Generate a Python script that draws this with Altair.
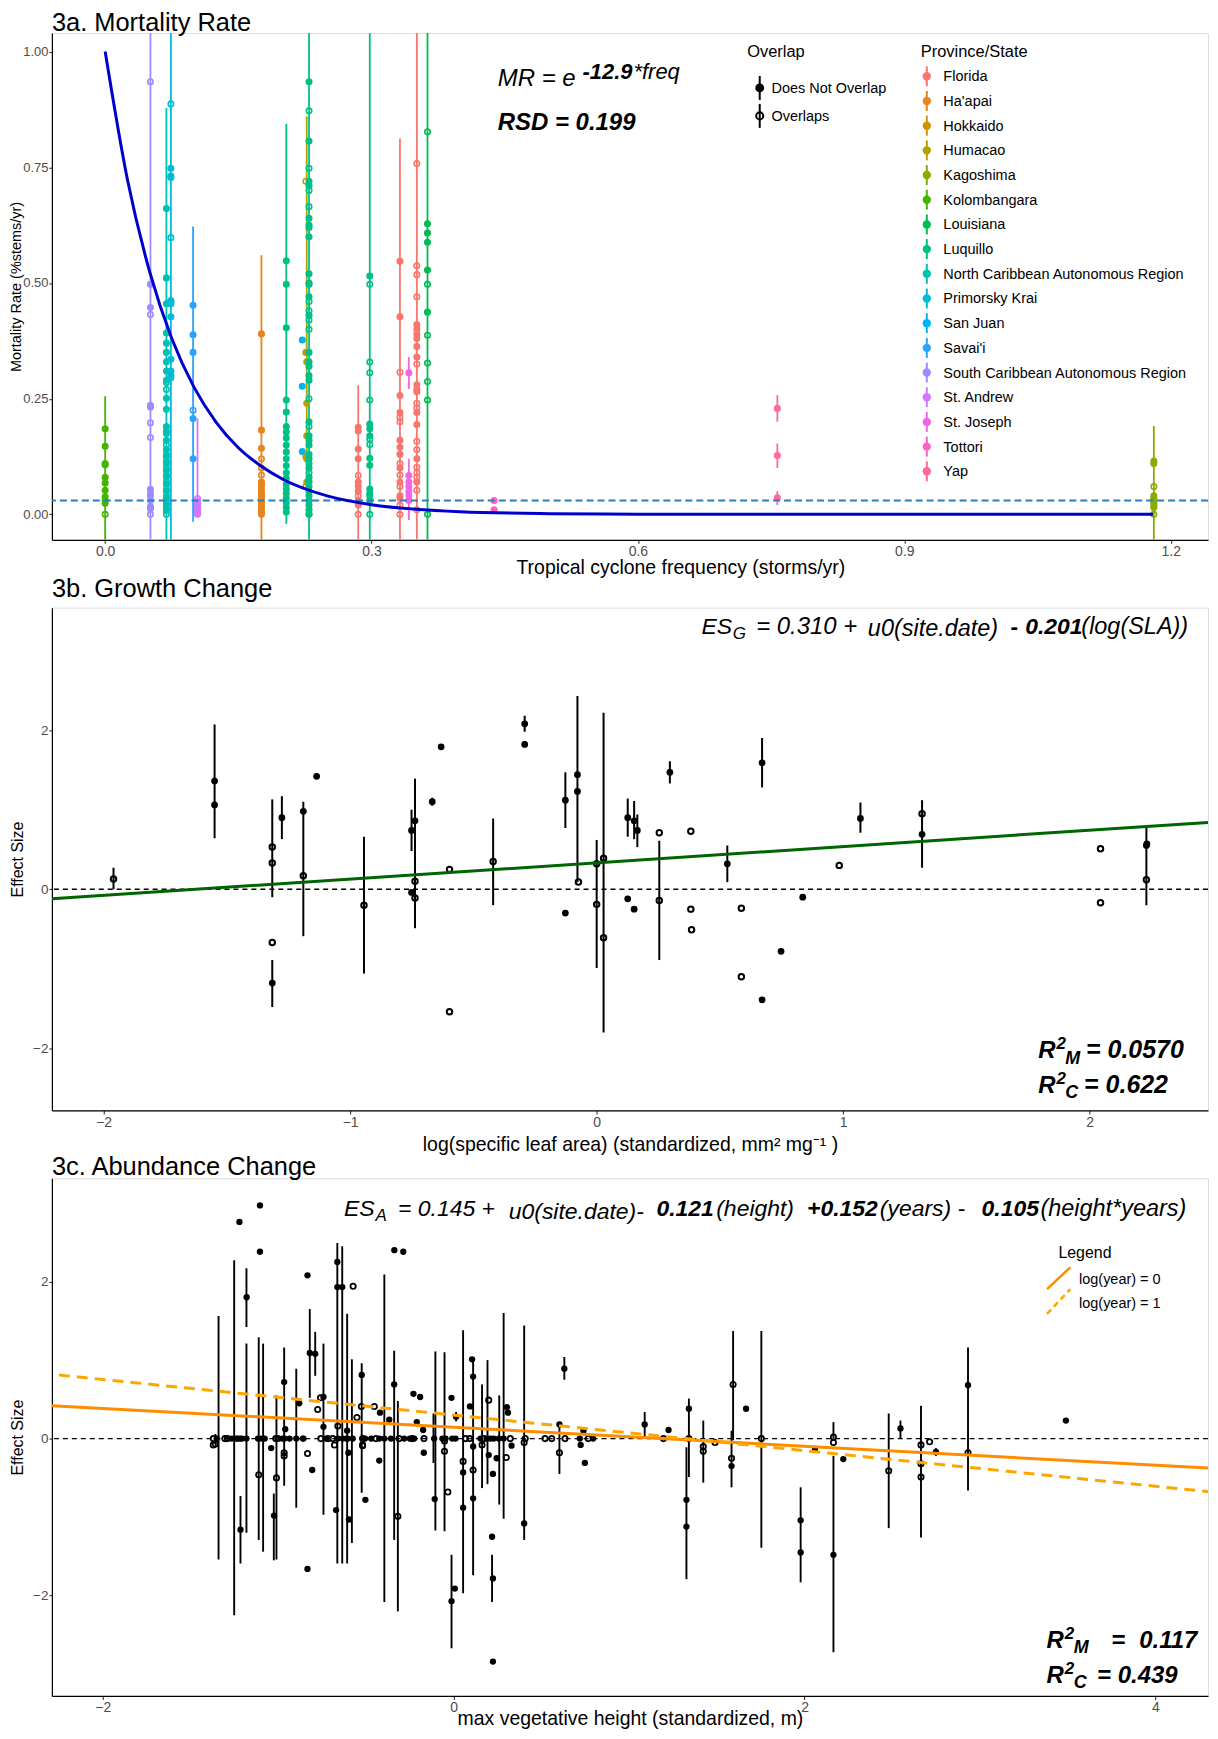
import math
import altair as alt
import pandas as pd

FONT = "Liberation Sans"

# ---------------- Panel 3a data ----------------
PROVINCES = ["Florida", "Ha'apai", "Hokkaido", "Humacao", "Kagoshima", "Kolombangara",
             "Louisiana", "Luquillo", "North Caribbean Autonomous Region", "Primorsky Krai",
             "San Juan", "Savai'i", "South Caribbean Autonomous Region", "St. Andrew",
             "St. Joseph", "Tottori", "Yap"]
OVERLAP = ["Does Not Overlap", "Overlaps"]

# (province, cyclone frequency, filled mortality values, open mortality values, error bars)
SITES_A = [
    ("Kolombangara", 0.000, [0.185, 0.147, 0.110, 0.107, 0.080, 0.068, 0.052, 0.038, 0.024],
     [0.030, 0.0], [(-0.10, 0.255)]),
    ("South Caribbean Autonomous Region", 0.051,
     [0.497, 0.447, 0.236, 0.232, 0.054, 0.044, 0.030, 0.017, 0.012],
     [0.935, 0.432, 0.198, 0.166, 0.040, 0.0], [(-0.10, 1.20)]),
    ("North Caribbean Autonomous Region", 0.069,
     [0.661, 0.511, 0.455, 0.392, 0.370, 0.350, 0.330, 0.310, 0.290, 0.251, 0.227, 0.190,
      0.175, 0.160, 0.140, 0.125, 0.110, 0.095, 0.080, 0.065, 0.050, 0.035, 0.020, 0.008],
     [0.285, 0.270, 0.180, 0.150, 0.130, 0.115, 0.100, 0.085, 0.070, 0.055, 0.040, 0.025,
      0.012, 0.0], [(-0.10, 0.878)]),
    ("Primorsky Krai", 0.074, [0.748, 0.731, 0.728, 0.459, 0.427, 0.335, 0.310, 0.300],
     [0.887, 0.598, 0.462, 0.455, 0.295], [(-0.10, 1.20)]),
    ("Savai'i", 0.099, [0.452, 0.388, 0.350, 0.207, 0.120], [0.225], [(-0.016, 0.622)]),
    ("St. Andrew", 0.104, [0.028, 0.022, 0.016, 0.011, 0.006, 0.002], [0.034, 0.0],
     [(0.0, 0.207)]),
    ("Ha'apai", 0.176, [0.390, 0.182, 0.143, 0.070, 0.060, 0.052, 0.045, 0.040, 0.035, 0.028,
                        0.022, 0.016, 0.010, 0.005, 0.0],
     [0.120, 0.100, 0.085, 0.065], [(-0.10, 0.560)]),
    ("Luquillo", 0.204, [0.548, 0.497, 0.403, 0.247, 0.221, 0.190, 0.178, 0.165, 0.150, 0.135,
                         0.120, 0.105, 0.090, 0.078, 0.065, 0.055, 0.045, 0.035, 0.025, 0.015,
                         0.005], [], [(-0.02, 0.844)]),
    ("San Juan", 0.222, [0.377, 0.277, 0.136], [], []),
    ("Humacao", 0.227, [0.330, 0.240, 0.170, 0.120, 0.070], [], [(0.0, 0.860)]),
    ("Hokkaido", 0.226, [0.350, 0.125], [0.720, 0.060], []),
    ("Luquillo", 0.2296, [0.935, 0.807, 0.720, 0.710, 0.640, 0.625, 0.620, 0.600, 0.520, 0.500,
                          0.470, 0.430, 0.350, 0.330, 0.320, 0.300, 0.290, 0.200, 0.170, 0.160,
                          0.150, 0.130, 0.120, 0.110, 0.100, 0.080, 0.070, 0.060, 0.050, 0.040,
                          0.030, 0.020, 0.010, 0.0],
     [0.872, 0.748, 0.700, 0.665, 0.497, 0.460, 0.440, 0.420, 0.400, 0.250, 0.190, 0.090, 0.0],
     [(-0.10, 1.20)]),
    ("Florida", 0.285, [0.188, 0.180, 0.141, 0.120, 0.070, 0.060, 0.050, 0.030, 0.020],
     [0.084, 0.040, 0.0], [(-0.10, 0.279)]),
    ("Luquillo", 0.298, [0.515, 0.195, 0.185, 0.170, 0.121, 0.106, 0.055, 0.045, 0.030],
     [0.497, 0.329, 0.306, 0.247, 0.163, 0.151, 0.040, 0.0], [(-0.10, 1.20)]),
    ("Florida", 0.332, [0.547, 0.427, 0.257, 0.220, 0.160, 0.145, 0.130, 0.100, 0.070, 0.040,
                        0.035], [0.307, 0.210, 0.200, 0.110, 0.085, 0.060, 0.020, 0.0],
     [(-0.10, 0.812)]),
    ("St. Joseph", 0.342, [0.306, 0.084, 0.070, 0.060, 0.050, 0.040, 0.030], [],
     [(0.271, 0.340), (-0.012, 0.120)]),
    ("Florida", 0.351, [0.410, 0.400, 0.390, 0.380, 0.363, 0.340, 0.280, 0.270, 0.265, 0.220,
                        0.194, 0.120, 0.070],
     [0.758, 0.537, 0.518, 0.470, 0.325, 0.240, 0.230, 0.158, 0.140, 0.102, 0.090, 0.080,
      0.052, 0.010], [(-0.10, 1.20)]),
    ("Louisiana", 0.363, [0.628, 0.608, 0.588, 0.528, 0.437],
     [0.827, 0.497, 0.387, 0.327, 0.287, 0.247, 0.0], [(-0.10, 1.20)]),
    ("Tottori", 0.438, [0.030, 0.010], [], []),
    ("Yap", 0.757, [0.229, 0.127, 0.036], [], [(0.200, 0.258), (0.100, 0.153), (0.020, 0.050)]),
    ("Kagoshima", 1.181, [0.115, 0.110, 0.040, 0.035, 0.030, 0.025, 0.020, 0.015],
     [0.060, 0.0], [(-0.10, 0.191)]),
]

# fitted curve (MR = e^-12.9*freq)
CURVE_X = [0.0, 0.025, 0.05, 0.075, 0.10, 0.125, 0.15, 0.175, 0.20, 0.25, 0.30, 0.35, 0.40,
           0.50, 0.60, 0.80, 1.00, 1.18]
CURVE_Y = [1.0, 0.724, 0.525, 0.380, 0.275, 0.199, 0.144, 0.105, 0.076, 0.040, 0.021, 0.011,
           0.0057, 0.0016, 0.0004, 0.0, 0.0, 0.0]
HLINE_A = [0.03]

# ---------------- Panel 3b data ----------------
B_FILLED = [(-1.55, 1.36), (-1.55, 1.06), (-1.277, 0.90), (-1.19, 0.98), (-1.136, 1.42),
            (-1.316, -1.18), (-0.751, 0.74), (-0.737, 0.86), (-0.751, -0.04), (-0.667, 1.10),
            (-0.631, 1.79), (-0.292, 2.08), (-0.292, 1.82), (-0.127, 1.12), (-0.127, -0.30),
            (-0.078, 1.44), (-0.078, 1.23), (0.126, 0.90), (0.126, -0.12), (0.152, 0.86),
            (0.152, -0.25), (0.165, 0.74), (0.297, 1.47), (0.530, 0.32), (0.671, 1.59),
            (0.671, -1.39), (0.748, -0.78), (0.836, -0.10), (1.070, 0.89), (1.320, 0.69),
            (2.230, 0.55), (2.232, 0.57)]
B_OPEN = [(-1.96, 0.13), (-1.316, 0.53), (-1.316, 0.33), (-1.19, 0.17), (-1.316, -0.67),
          (-0.944, -0.20), (-0.737, 0.10), (-0.737, -0.11), (-0.597, 0.25), (-0.597, -1.54),
          (-0.42, 0.35), (-0.074, 0.09), (0.0, 0.32), (0.0, -0.19), (0.028, 0.39),
          (0.028, -0.61), (0.254, 0.71), (0.254, -0.14), (0.382, 0.73), (0.382, -0.25),
          (0.385, -0.51), (0.587, -0.24), (0.587, -1.10), (0.984, 0.30), (1.320, 0.95),
          (2.044, 0.51), (2.044, -0.17), (2.230, 0.12)]
B_BARS = [(-1.96, 0.0, 0.27), (-1.55, 0.64, 2.07), (-1.316, -0.10, 1.13), (-1.277, 0.63, 1.17),
          (-1.19, -0.59, 1.10), (-1.316, -1.48, -0.89), (-0.944, -1.06, 0.66),
          (-0.751, 0.48, 1.00), (-0.737, -0.49, 1.39), (-0.667, 1.05, 1.15),
          (-0.42, -0.20, 0.89), (-0.292, 1.98, 2.18), (-0.127, 0.77, 1.47),
          (-0.078, 0.09, 2.43), (0.0, -0.99, 0.62), (0.028, -1.80, 2.22), (0.126, 0.66, 1.14),
          (0.152, 0.63, 1.11), (0.165, 0.53, 0.94), (0.254, -0.89, 0.61), (0.297, 1.33, 1.61),
          (0.530, 0.09, 0.55), (0.671, 1.28, 1.90), (1.070, 0.71, 1.09), (1.320, 0.27, 1.12),
          (2.230, -0.20, 0.79)]
B_FIT_X = [-2.21, 2.48]
B_FIT_Y = [-0.12, 0.84]

# ---------------- Panel 3c data ----------------
C_FILLED = [
    # points on the zero line
    (-1.351, 0.0), (-1.266, 0.0), (-1.238, 0.0), (-1.234, 0.0), (-1.219, 0.0), (-1.207, 0.0),
    (-1.181, 0.0), (-1.115, 0.0), (-1.096, 0.0), (-1.077, 0.0), (-0.977, 0.0), (-0.964, 0.0),
    (-0.935, 0.0), (-0.897, 0.0), (-0.859, 0.0), (-0.856, 0.0), (-0.727, 0.0), (-0.660, 0.0),
    (-0.632, 0.0), (-0.610, 0.0), (-0.604, 0.0), (-0.575, 0.0), (-0.505, 0.0), (-0.470, 0.0),
    (-0.424, 0.0), (-0.395, 0.0), (-0.357, 0.0), (-0.282, 0.0), (-0.250, 0.0), (-0.225, 0.0),
    (-0.111, 0.0), (-0.064, 0.0), (-0.046, 0.0), (-0.008, 0.0), (0.011, 0.0), (0.153, 0.0),
    (0.190, 0.0), (0.209, 0.0), (0.228, 0.0), (0.257, 0.0), (0.285, 0.0), (0.719, 0.0),
    (0.795, 0.0),
    # points away from zero
    (-1.221, 2.76), (-1.104, 2.97), (-1.104, 2.38), (-1.18, 1.80), (-1.215, -1.16),
    (-1.04, -0.12), (-1.024, -0.98), (-0.966, 0.72), (-0.96, 0.12), (-0.88, 0.45),
    (-0.833, 2.08), (-0.833, -1.66), (-0.82, 1.09), (-0.806, -0.40), (-0.789, 1.08),
    (-0.742, 0.15), (-0.742, 0.53), (-0.67, -0.91), (-0.663, 2.25), (-0.663, 1.93),
    (-0.635, 1.93), (-0.607, 0.10), (-0.597, -1.03), (-0.60, -0.18), (-0.524, 0.81),
    (-0.503, -0.78), (-0.424, -0.28), (-0.42, 0.33), (-0.367, 0.24), (-0.339, 0.69),
    (-0.338, 2.40), (-0.287, 2.38), (-0.229, 0.57), (-0.191, 0.53), (-0.21, 0.21),
    (-0.174, 0.11), (-0.17, -0.18), (-0.108, -0.77), (-0.012, 0.52), (-0.012, -2.07),
    (0.007, -1.91), (0.014, 0.28), (0.054, -0.43), (0.054, -0.88), (0.105, 1.01),
    (0.111, 0.79), (0.093, 0.41), (0.111, -0.10), (0.111, -0.76), (0.20, -0.21),
    (0.219, -1.25), (0.224, -1.78), (0.224, -0.45), (0.224, -2.84), (0.245, -0.25),
    (0.304, 0.40), (0.31, 0.33), (0.33, -0.09), (0.402, -1.08), (0.603, 0.18), (0.631, 0.89),
    (0.724, -0.08), (0.74, 0.10), (0.748, -0.31), (1.089, 0.18), (1.225, 0.11),
    (1.327, -0.78), (1.327, -1.12), (1.341, 0.38), (1.584, -0.35), (1.667, 0.38),
    (1.978, -1.04), (1.978, -1.45), (2.06, -0.13), (2.165, -1.48), (2.221, -0.26),
    (2.547, 0.13), (2.749, -0.17), (2.932, 0.68), (3.49, 0.23)]
C_OPEN = [
    (-1.370, 0.0), (-1.304, 0.0), (-1.290, 0.0), (-1.014, 0.0), (-1.002, 0.0), (-0.757, 0.0),
    (-0.716, 0.0), (-0.689, 0.0), (-0.519, 0.0), (-0.443, 0.0), (-0.311, 0.0), (-0.235, 0.0),
    (-0.169, 0.0), (0.068, 0.0), (0.172, 0.0), (0.323, 0.0), (0.408, 0.0), (0.521, 0.0),
    (0.559, 0.0), (0.635, 0.0), (0.767, 0.0), (1.196, 0.0), (1.341, 0.0), (1.754, 0.0),
    (2.165, 0.02), (-1.37, -0.08), (-0.679, -0.08), (-0.519, -0.08), (0.162, -0.08),
    (-1.358, -0.07), (-1.111, -0.46), (-1.01, -0.50), (-0.966, -0.18), (-0.966, -0.22),
    (-0.833, -0.19), (-0.775, 0.37), (-0.759, 0.52), (-0.66, 0.16), (-0.573, 1.94),
    (-0.551, 0.27), (-0.526, 0.41), (-0.519, -0.09), (-0.452, 0.41), (-0.318, -0.99),
    (-0.052, -0.03), (-0.052, -0.16), (-0.033, -0.68), (0.054, -0.29), (0.092, 0.0),
    (0.111, -0.40), (0.20, 0.49), (0.30, -0.24), (0.402, -0.05), (0.603, -0.18),
    (1.423, -0.10), (1.423, -0.16), (1.49, -0.05), (1.593, 0.69), (1.584, -0.25),
    (2.165, -0.05), (2.48, -0.41), (2.664, -0.08), (2.664, -0.32), (2.664, -0.49),
    (2.713, -0.04), (2.932, -0.18)]
C_BARS = [(-1.358, -0.07, 0.06), (-1.34, -1.54, 1.56), (-1.251, -2.25, 2.27),
          (-1.215, -1.59, -0.73), (-1.181, 1.42, 2.17), (-1.181, -1.20, 1.21),
          (-1.111, -1.29, 1.29), (-1.086, -1.44, 1.21), (-1.025, -1.55, -0.70),
          (-1.01, -1.54, 0.55), (-0.966, -0.60, 1.16), (-0.897, -0.88, 0.89),
          (-0.82, 0.52, 1.65), (-0.789, 0.80, 1.36), (-0.742, -0.97, 1.21),
          (-0.663, -1.59, 2.49), (-0.635, -1.59, 2.45), (-0.607, -1.59, 1.59),
          (-0.58, -1.33, 1.01), (-0.524, -0.69, 0.96), (-0.395, -2.08, 2.09),
          (-0.339, -1.29, 1.12), (-0.318, -2.20, 0.48), (-0.115, -0.31, 0.32),
          (-0.104, -1.17, 1.11), (-0.052, -1.18, 1.10), (0.014, 0.22, 0.34),
          (-0.012, -2.67, -1.48), (0.054, -1.97, 1.38), (0.111, -1.74, 1.01),
          (0.162, -0.63, 0.69), (0.193, -0.58, 1.00), (0.219, -2.08, -1.48),
          (0.26, -0.84, 0.55), (0.285, -1.02, 1.60), (0.402, -1.29, 1.44),
          (0.603, -0.45, 0.17), (0.631, 0.75, 1.04), (1.089, 0.02, 0.34),
          (1.327, -1.79, -0.11), (1.341, -0.49, 0.51), (1.423, -0.56, 0.23),
          (1.593, -0.02, 1.37), (1.584, -0.62, 0.10), (1.754, -1.39, 1.37),
          (1.978, -1.83, -0.62), (2.165, -2.72, -0.22), (2.165, 0.0, 0.21),
          (2.48, -1.14, 0.32), (2.547, 0.0, 0.23), (2.664, -1.26, 0.42),
          (2.749, -0.22, -0.12), (2.932, -0.66, 1.16)]
C_FIT0_X = [-2.29, 4.30]
C_FIT0_Y = [0.42, -0.375]
C_FIT1_X = [-2.25, 4.30]
C_FIT1_Y = [0.81, -0.675]


# ---------------- colours (ggplot2 default hue palette) ----------------
def hcl_hex(h, c=100.0, l=65.0):
    hr = math.radians(h)
    u, v = c * math.cos(hr), c * math.sin(hr)
    Xn, Yn, Zn = 95.047, 100.0, 108.883
    Y = Yn * ((l + 16.0) / 116.0) ** 3
    den = Xn + 15 * Yn + 3 * Zn
    un, vn = 4 * Xn / den, 9 * Yn / den
    up, vp = u / (13 * l) + un, v / (13 * l) + vn
    X = Y * 9 * up / (4 * vp)
    Z = Y * (12 - 3 * up - 20 * vp) / (4 * vp)
    X, Y, Z = X / 100, Y / 100, Z / 100
    r = 3.240479 * X - 1.537150 * Y - 0.498535 * Z
    g = -0.969256 * X + 1.875992 * Y + 0.041556 * Z
    b = 0.055648 * X - 0.204043 * Y + 1.057311 * Z

    def gam(t):
        t = min(max(t, 0.0), 1.0)
        return 12.92 * t if t <= 0.0031308 else 1.055 * t ** (1 / 2.4) - 0.055
    return "#%02X%02X%02X" % tuple(int(round(gam(t) * 255)) for t in (r, g, b))


N = len(PROVINCES)
PROV_COLORS = [hcl_hex(15 + i * 360.0 / N) for i in range(N)]

# ---------------- data frames ----------------
rows_pts, rows_bars = [], []
for prov, fx, filled, opened, bars in SITES_A:
    for yv in filled:
        rows_pts.append({"x": fx, "y": yv, "prov": prov, "ov": OVERLAP[0]})
    for yv in opened:
        rows_pts.append({"x": fx, "y": yv, "prov": prov, "ov": OVERLAP[1]})
    for lo, hi in bars:
        rows_bars.append({"x": fx, "lo": lo, "hi": hi, "prov": prov})
df_a_pts = pd.DataFrame(rows_pts)
df_a_bars = pd.DataFrame(rows_bars)
df_a_curve = pd.DataFrame({"x": CURVE_X, "y": CURVE_Y})
df_a_h = pd.DataFrame({"y": HLINE_A})

df_b_f = pd.DataFrame(B_FILLED, columns=["x", "y"])
df_b_o = pd.DataFrame(B_OPEN, columns=["x", "y"])
df_b_bars = pd.DataFrame(B_BARS, columns=["x", "lo", "hi"])
df_b_fit = pd.DataFrame({"x": B_FIT_X, "y": B_FIT_Y})
df_c_f = pd.DataFrame(C_FILLED, columns=["x", "y"])
df_c_o = pd.DataFrame(C_OPEN, columns=["x", "y"])
df_c_bars = pd.DataFrame(C_BARS, columns=["x", "lo", "hi"])
df_c_fit0 = pd.DataFrame({"x": C_FIT0_X, "y": C_FIT0_Y})
df_c_fit1 = pd.DataFrame({"x": C_FIT1_X, "y": C_FIT1_Y})
df_zero = pd.DataFrame({"y": [0.0]})
one = pd.DataFrame({"k": [0]})

W = 1159
HA, HB, HC = 508, 504, 519
TITLE_FS = 25.5
DX = -2.0  # horizontal nudge of annotations (plot starts ~2px right of the reference)


def axis_x(values, fmt, title, title_x=None, title_y=34):
    kw = dict(values=values, format=fmt, title=title, grid=False, tickSize=3.5,
              tickColor="#333333", tickWidth=1.1, labelFontSize=14, labelColor="#4D4D4D",
              labelFont=FONT, labelPadding=1.5, labelFlush=False, domainColor="black",
              domainWidth=1.2, titleFont=FONT, titleFontSize=19.5, titleFontWeight="normal",
              titleColor="black", titleBaseline="alphabetic", titleY=title_y)
    if title_x is not None:
        kw["titleX"] = title_x
    return alt.Axis(**kw)


def axis_y(values, fmt, title, title_x=-29, label_fs=13.5, title_fs=16):
    return alt.Axis(values=values, format=fmt, title=title, grid=False, tickSize=3,
                    tickColor="#333333", tickWidth=1.1, labelFontSize=label_fs,
                    labelColor="#4D4D4D", labelFont=FONT, labelPadding=1, labelFlush=False,
                    domainColor="black", domainWidth=1.2, titleFont=FONT, titleFontSize=title_fs,
                    titleFontWeight="normal", titleColor="black", titleBaseline="alphabetic",
                    titleX=title_x)


def txt(s, x, y, size, style="normal", weight="normal", color="black", align="left"):
    return alt.Chart(pd.DataFrame({"t": [s]})).mark_text(
        font=FONT, fontSize=size, fontStyle=style, fontWeight=weight, color=color,
        align=align, baseline="alphabetic").encode(
        text="t:N", x=alt.value(x + DX), y=alt.value(y))


def key_glyph(cx, cy, half, diam, color, filled):
    """pointrange legend key: vertical line with a circle"""
    cx = cx + DX
    line = alt.Chart(one).mark_rule(color=color, strokeWidth=2).encode(
        x=alt.value(cx), y=alt.value(cy - half), y2=alt.value(cy + half))
    if filled:
        dot = alt.Chart(one).mark_point(shape="circle", filled=True, color=color, opacity=1,
                                        size=math.pi * (diam / 2) ** 2).encode(
            x=alt.value(cx), y=alt.value(cy))
    else:
        d = diam - 2
        dot = alt.Chart(one).mark_point(shape="circle", filled=False, color=color, opacity=1,
                                        strokeWidth=2, size=math.pi * (d / 2) ** 2).encode(
            x=alt.value(cx), y=alt.value(cy))
    return [line, dot]


# ---------------- Panel 3a ----------------
xs_a = alt.Scale(domain=[-0.06, 1.242], nice=False, zero=False)
ys_a = alt.Scale(domain=[-0.055, 1.04], nice=False, zero=False)
ax_xa = axis_x([0.0, 0.3, 0.6, 0.9, 1.2], ".1f", "Tropical cyclone frequency (storms/yr)",
               title_x=630, title_y=34)
ax_ya = axis_y([0.0, 0.25, 0.5, 0.75, 1.0], ".2f", "Mortality Rate (%stems/yr)", title_x=-31,
               label_fs=13, title_fs=14.5)
prov_scale = alt.Scale(domain=PROVINCES, range=PROV_COLORS)

a_bars = alt.Chart(df_a_bars).mark_rule(strokeWidth=1.8, clip=True).encode(
    x=alt.X("x:Q", scale=xs_a, axis=ax_xa),
    y=alt.Y("lo:Q", scale=ys_a, axis=ax_ya), y2="hi:Q",
    color=alt.Color("prov:N", scale=prov_scale, legend=None))
a_pts = alt.Chart(df_a_pts).mark_point(shape="circle", size=30, strokeWidth=1.6, opacity=1,
                                       clip=True).encode(
    x=alt.X("x:Q", scale=xs_a, axis=ax_xa),
    y=alt.Y("y:Q", scale=ys_a, axis=ax_ya),
    fill=alt.Fill("prov:N", scale=prov_scale, legend=None),
    stroke=alt.Stroke("prov:N", scale=prov_scale, legend=None),
    fillOpacity=alt.FillOpacity("ov:N", scale=alt.Scale(domain=OVERLAP, range=[1, 0]),
                                legend=None))
a_h = alt.Chart(df_a_h).mark_rule(color="#2C7FB8", strokeWidth=1.8, strokeDash=[7, 4]).encode(
    y=alt.Y("y:Q", scale=ys_a, axis=ax_ya))
a_curve = alt.Chart(df_a_curve).mark_line(color="#0000CD", strokeWidth=3,
                                          interpolate="monotone", clip=True).encode(
    x=alt.X("x:Q", scale=xs_a, axis=ax_xa),
    y=alt.Y("y:Q", scale=ys_a, axis=ax_ya))

# legends (drawn as keys + labels, ggplot-style pointrange keys)
legend_a = [txt("Overlap", 699, 24.1, 16.5)]
legend_a += key_glyph(711.6, 55, 12, 10, "black", True)
legend_a.append(txt(OVERLAP[0], 723.4, 60, 14.5))
legend_a += key_glyph(711.6, 83, 12, 10, "black", False)
legend_a.append(txt(OVERLAP[1], 723.4, 88, 14.5))
legend_a.append(txt("Province/State", 873, 23.5, 16.5))
for i, (p, col) in enumerate(zip(PROVINCES, PROV_COLORS)):
    cy = 43.3 + i * 24.75
    legend_a += key_glyph(879.1, cy, 10, 9.5, col, True)
    legend_a.append(txt(p, 895.7, cy + 5, 14.5))

panel_a = alt.layer(
    a_bars, a_pts, a_h, a_curve,
    txt("3a. Mortality Rate", 0 - DX, -2.5, TITLE_FS),
    txt("MR = e", 449, 53, 24, style="italic"),
    txt("-12.9", 534, 46, 22, style="italic", weight="bold"),
    txt("*freq", 585, 46, 22, style="italic"),
    txt("RSD = 0.199", 449, 97, 24, style="italic", weight="bold"),
    *legend_a,
).properties(width=W, height=HA)

# ---------------- Panel 3b ----------------
xs_b = alt.Scale(domain=[-2.21, 2.48], nice=False, zero=False)
ys_b = alt.Scale(domain=[-2.78, 3.54], nice=False, zero=False)
ax_xb = axis_x([-2, -1, 0, 1, 2], "d",
               "log(specific leaf area) (standardized, mm\u00b2 mg\u207b\u00b9 )", title_y=40)
ax_yb = axis_y([-2, 0, 2], "d", "Effect Size")


def xb(f="x"):
    return alt.X(f + ":Q", scale=xs_b, axis=ax_xb)


def yb(f="y"):
    return alt.Y(f + ":Q", scale=ys_b, axis=ax_yb)


b_bars = alt.Chart(df_b_bars).mark_rule(strokeWidth=2, color="black", clip=True).encode(
    x=xb(), y=yb("lo"), y2="hi:Q")
b_zero = alt.Chart(df_zero).mark_rule(color="black", strokeWidth=1.3, strokeDash=[5, 4]).encode(
    y=yb())
b_f = alt.Chart(df_b_f).mark_point(shape="circle", filled=True, size=46, color="black",
                                   opacity=1).encode(x=xb(), y=yb())
b_o = alt.Chart(df_b_o).mark_point(shape="circle", filled=False, size=30, color="black",
                                   strokeWidth=2, opacity=1).encode(x=xb(), y=yb())
b_fit = alt.Chart(df_b_fit).mark_line(color="#006400", strokeWidth=3, clip=True).encode(
    x=xb(), y=yb())

panel_b = alt.layer(
    b_bars, b_zero, b_f, b_o, b_fit,
    txt("3b. Growth Change", 0 - DX, -10.8, TITLE_FS),
    txt("ES", 653.3, 26, 23, style="italic"),
    txt("G", 684.5, 31, 17, style="italic"),
    txt("= 0.310 + ", 708, 26, 24, style="italic"),
    txt("u0(site.date)", 820, 28, 23.5, style="italic"),
    txt("-", 963, 26, 23, weight="bold"),
    txt("0.201", 977.7, 26, 23, style="italic", weight="bold"),
    txt("(log(SLA))", 1034, 26, 23.5, style="italic"),
    txt("R", 990.7, 451, 24, style="italic", weight="bold"),
    txt("2", 1009, 442, 17, style="italic", weight="bold"),
    txt("M", 1018, 457, 18, style="italic", weight="bold"),
    txt("= 0.0570", 1038.8, 451, 25, style="italic", weight="bold"),
    txt("R", 990.7, 487, 24, style="italic", weight="bold"),
    txt("2", 1009, 478, 17, style="italic", weight="bold"),
    txt("C", 1018, 492, 18, style="italic", weight="bold"),
    txt("= 0.622", 1036.8, 487, 25, style="italic", weight="bold"),
).properties(width=W, height=HB)

# ---------------- Panel 3c ----------------
xs_c = alt.Scale(domain=[-2.29, 4.30], nice=False, zero=False)
ys_c = alt.Scale(domain=[-3.277, 3.316], nice=False, zero=False)
ax_xc = axis_x([-2, 0, 2, 4], "d", "max vegetative height (standardized, m)", title_y=29)
ax_yc = axis_y([-2, 0, 2], "d", "Effect Size")


def xc(f="x"):
    return alt.X(f + ":Q", scale=xs_c, axis=ax_xc)


def yc(f="y"):
    return alt.Y(f + ":Q", scale=ys_c, axis=ax_yc)


c_bars = alt.Chart(df_c_bars).mark_rule(strokeWidth=1.9, color="black", clip=True).encode(
    x=xc(), y=yc("lo"), y2="hi:Q")
c_zero = alt.Chart(df_zero).mark_rule(color="black", strokeWidth=1.3, strokeDash=[5, 4]).encode(
    y=yc())
c_f = alt.Chart(df_c_f).mark_point(shape="circle", filled=True, size=40, color="black",
                                   opacity=1).encode(x=xc(), y=yc())
c_o = alt.Chart(df_c_o).mark_point(shape="circle", filled=False, size=28, color="black",
                                   strokeWidth=1.8, opacity=1).encode(x=xc(), y=yc())
c_fit0 = alt.Chart(df_c_fit0).mark_line(color="#FF8C00", strokeWidth=3, clip=True).encode(
    x=xc(), y=yc())
c_fit1 = alt.Chart(df_c_fit1).mark_line(color="#FFA500", strokeWidth=3, strokeDash=[11, 7],
                                        clip=True).encode(x=xc(), y=yc())
leg_l0 = alt.Chart(one).mark_rule(color="#FF8C00", strokeWidth=2.5).encode(
    x=alt.value(999.6 + DX), x2=alt.value(1023 + DX), y=alt.value(111.1), y2=alt.value(89.3))
leg_l1 = alt.Chart(one).mark_rule(color="#FFA500", strokeWidth=2.5, strokeDash=[6, 4]).encode(
    x=alt.value(999.6 + DX), x2=alt.value(1023 + DX), y=alt.value(136), y2=alt.value(111.1))

panel_c = alt.layer(
    c_bars, c_zero, c_f, c_o, c_fit0, c_fit1, leg_l0, leg_l1,
    txt("3c. Abundance Change", 0 - DX, -3.2, TITLE_FS),
    txt("ES", 294.8, 37.6, 23, style="italic"),
    txt("A", 326.5, 42.6, 17, style="italic"),
    txt("= 0.145 + ", 349, 37.6, 23, style="italic"),
    txt("u0(site.date)-", 460, 40.6, 23, style="italic"),
    txt("0.121", 608, 37.6, 23, style="italic", weight="bold"),
    txt("(height)", 668, 37.6, 23, style="italic"),
    txt("+0.152", 759, 37.6, 23, style="italic", weight="bold"),
    txt("(years) -", 832, 37.6, 23, style="italic"),
    txt("0.105", 934, 37.6, 23, style="italic", weight="bold"),
    txt("(height*years)", 993, 37.6, 23.5, style="italic"),
    txt("Legend", 1011, 79.7, 16),
    txt("log(year) = 0", 1031.7, 105.6, 14.5),
    txt("log(year) = 1", 1031.7, 130.1, 14.5),
    txt("R", 999, 470.8, 24, style="italic", weight="bold"),
    txt("2", 1017.5, 462, 17, style="italic", weight="bold"),
    txt("M", 1026.5, 476, 18, style="italic", weight="bold"),
    txt("=", 1064, 470.8, 24, style="italic", weight="bold"),
    txt("0.117", 1092, 470.8, 24, style="italic", weight="bold"),
    txt("R", 999, 506, 24, style="italic", weight="bold"),
    txt("2", 1017.5, 497, 17, style="italic", weight="bold"),
    txt("C", 1026.5, 511, 18, style="italic", weight="bold"),
    txt("= 0.439", 1049.8, 506, 24, style="italic", weight="bold"),
).properties(width=W, height=HC)

chart = alt.vconcat(panel_a, panel_b, panel_c, spacing=68, bounds="flush").properties(
    padding={"left": 0, "top": 0, "right": 0, "bottom": 0}
).configure_view(stroke="#333333", strokeWidth=1.2).configure(background="white")

chart.save("out.html", embed_options={"renderer": "svg", "actions": False})
